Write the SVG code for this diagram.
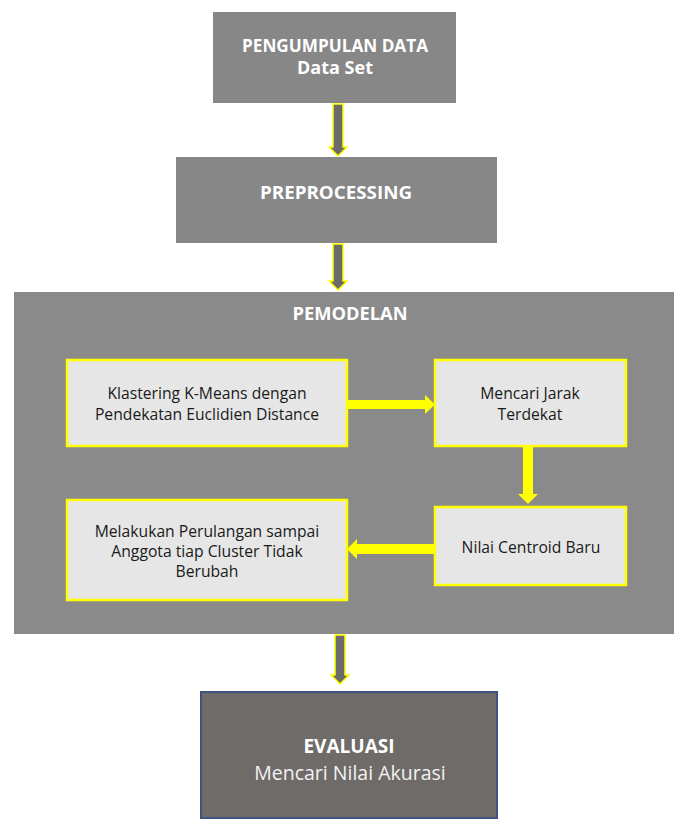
<svg xmlns="http://www.w3.org/2000/svg" width="674" height="820" viewBox="0 0 674 820">
<style>
.hdr{fill:#878787}
.t{font-family:"Open Sans","Liberation Sans",sans-serif;text-anchor:middle}
.w{fill:#ffffff;font-weight:bold;font-size:18px}
.in{fill:#e6e6e6;stroke:#ffff00;stroke-width:2.5}
.d{fill:#1a1a1a;font-size:15.7px}
.oa{fill:#6b6b6b;stroke:#ffff00;stroke-width:1.5}
.ya{fill:#ffff00}
</style>
<rect width="674" height="820" fill="#ffffff"/>
<g id="pengumpulan">
<rect class="hdr" x="213" y="12" width="243" height="91"/>
<text class="t w" x="335" y="52" font-size="17" textLength="186" lengthAdjust="spacingAndGlyphs">PENGUMPULAN DATA</text>
<text class="t w" x="335" y="74" font-size="17">Data Set</text>
</g>
<g id="preprocessing">
<rect class="hdr" x="176" y="157" width="321" height="86"/>
<text class="t w" x="336" y="199" textLength="152" lengthAdjust="spacingAndGlyphs">PREPROCESSING</text>
</g>
<g id="pemodelan">
<rect fill="#8a8a8a" x="14" y="292" width="660" height="342"/>
<text class="t w" x="350" y="320" textLength="115" lengthAdjust="spacingAndGlyphs">PEMODELAN</text>
</g>
<g id="klastering">
<rect class="in" x="67" y="360" width="280" height="86"/>
<text class="t d" x="207" y="399">Klastering K-Means dengan</text>
<text class="t d" x="207" y="420">Pendekatan Euclidien Distance</text>
</g>
<g id="jarak">
<rect class="in" x="435" y="360" width="191" height="86"/>
<text class="t d" x="530" y="399">Mencari Jarak</text>
<text class="t d" x="530" y="420">Terdekat</text>
</g>
<g id="centroid">
<rect class="in" x="435" y="507" width="191" height="78"/>
<text class="t d" x="531" y="553">Nilai Centroid Baru</text>
</g>
<g id="perulangan">
<rect class="in" x="67" y="500" width="280" height="100"/>
<text class="t d" x="207" y="537">Melakukan Perulangan sampai</text>
<text class="t d" x="207" y="557">Anggota tiap Cluster Tidak</text>
<text class="t d" x="207" y="577">Berubah</text>
</g>
<g id="evaluasi">
<rect fill="#6f6b69" stroke="#3f5282" stroke-width="2" x="201" y="692" width="296" height="126"/>
<text class="t" x="349" y="753" fill="#ffffff" font-weight="bold" font-size="19">EVALUASI</text>
<text class="t" x="350" y="780" fill="#f2f2f2" font-size="19.5">Mencari Nilai Akurasi</text>
</g>
<g id="connectors">
<path class="oa" d="M333,104 H343 V147 H347 L338,156 L329,147 H333 Z"/>
<path class="oa" d="M333,244 H343 V281 H347 L338,290 L329,281 H333 Z"/>
<path class="oa" d="M335,635 H345 V675 H349 L340,684 L331,675 H335 Z"/>
<path class="ya" d="M347,400 H425 V395 L435,404.5 L425,414 V409 H347 Z"/>
<path class="ya" d="M523,447 H533 V494 H538 L528,504 L518,494 H523 Z"/>
<path class="ya" d="M435,544 H357 V539 L347,549 L357,559 V554 H435 Z"/>
</g>
</svg>
